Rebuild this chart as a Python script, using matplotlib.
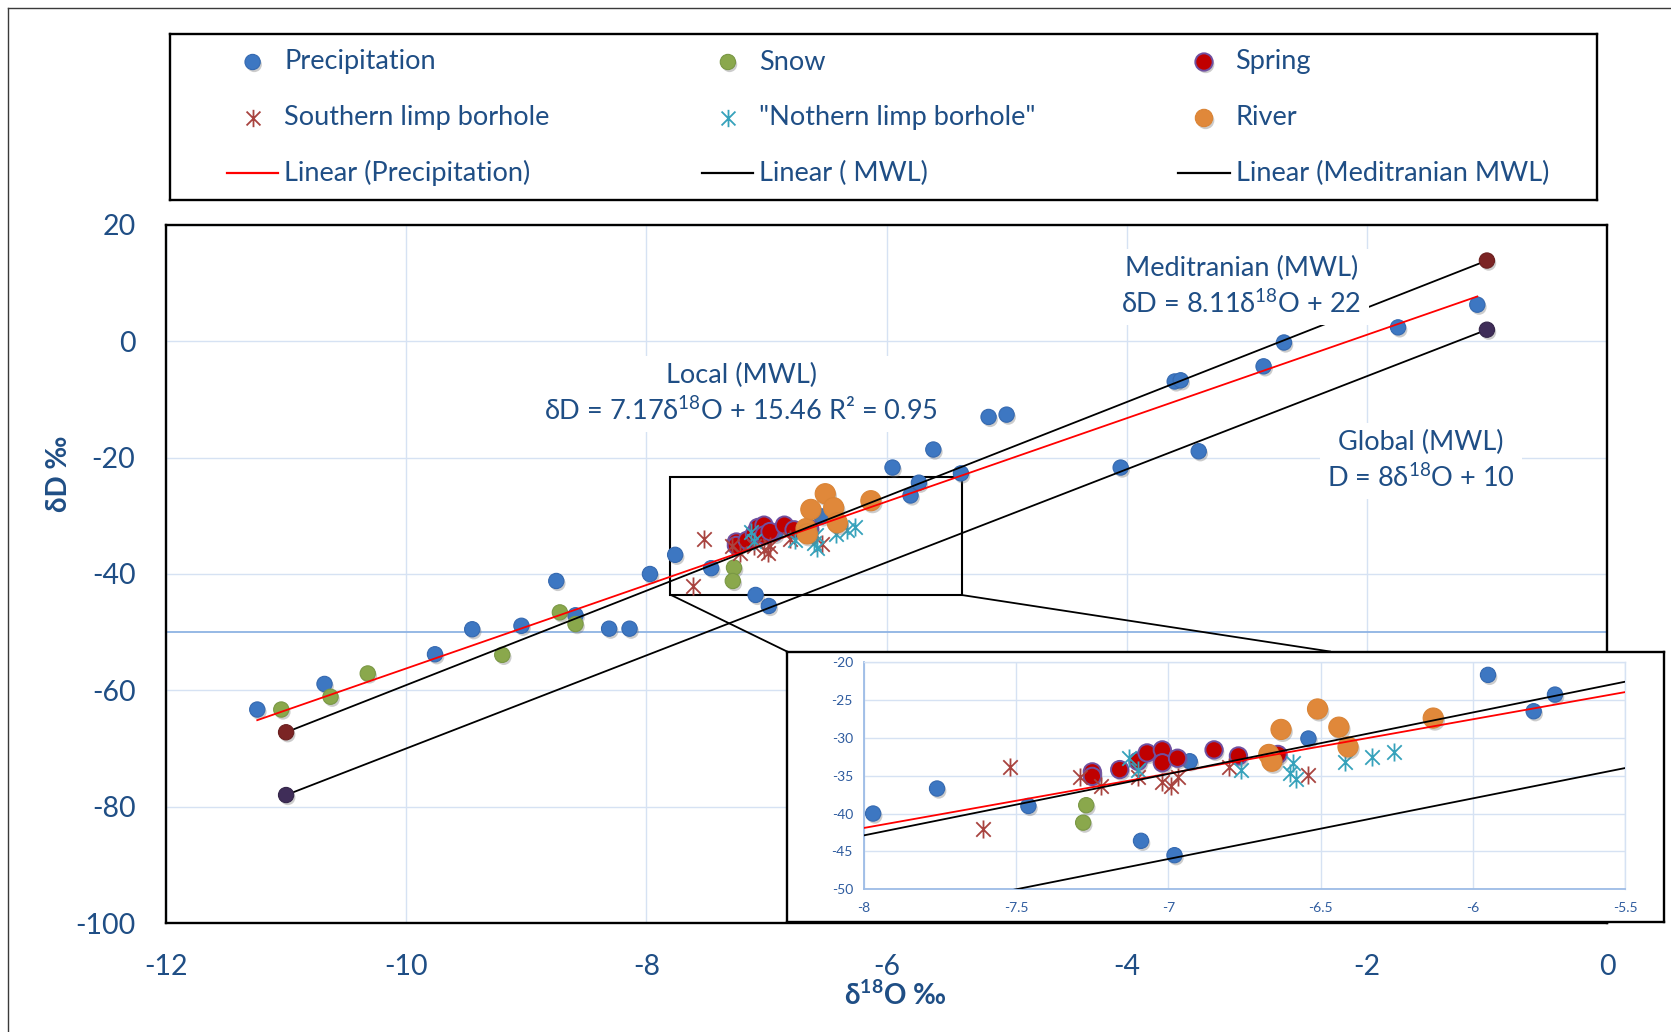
import numpy as np
import matplotlib
matplotlib.use("Agg")
import matplotlib.pyplot as plt
import matplotlib.patheffects as pe
from matplotlib.lines import Line2D
from matplotlib.path import Path
from matplotlib.patches import Rectangle

plt.rcParams["font.family"] = ["Lato", "Noto Sans", "DejaVu Sans"]
plt.rcParams["axes.unicode_minus"] = False
plt.rcParams["mathtext.fontset"] = "custom"
plt.rcParams["mathtext.rm"] = "Lato"
plt.rcParams["mathtext.it"] = "Lato:italic"
plt.rcParams["mathtext.bf"] = "Lato:bold"

# ---------------- isotope data (δ18O ‰, δD ‰) ----------------
precip_o18 = [-11.24, -10.68, -9.76, -9.45, -9.04, -8.75, -8.59, -8.31, -8.14,
              -7.97, -7.76, -7.46, -7.09, -6.98, -6.93, -6.54, -5.95, -5.80,
              -5.73, -5.61, -5.38, -5.15, -5.00, -4.05, -3.60, -3.55, -3.40,
              -2.86, -2.69, -1.74, -1.08]
precip_d = [-63.3, -58.9, -53.8, -49.5, -48.9, -41.2, -47.1, -49.4, -49.4,
            -40.0, -36.7, -39.0, -43.6, -45.5, -33.1, -30.1, -21.7, -26.5,
            -24.3, -18.6, -22.7, -13.0, -12.6, -21.7, -6.9, -6.7, -18.9,
            -4.3, -0.2, 2.4, 6.3]

snow_o18 = [-11.04, -10.63, -10.32, -9.20, -8.72, -8.59, -7.27, -7.28]
snow_d = [-63.3, -61.1, -57.1, -53.9, -46.6, -48.6, -38.9, -41.2]

spring_o18 = [-7.25, -7.25, -7.16, -7.10, -7.07, -7.02, -7.02, -6.97, -6.85, -6.77, -6.64]
spring_d = [-34.5, -35.1, -34.2, -33.1, -32.0, -31.6, -33.3, -32.7, -31.6, -32.4, -32.2]

south_o18 = [-7.52, -7.61, -7.29, -7.22, -7.10, -7.02, -6.99, -6.97, -6.80, -6.54]
south_d = [-33.9, -42.1, -35.2, -36.4, -35.2, -35.9, -36.4, -35.2, -33.9, -34.9]

north_o18 = [-7.13, -7.10, -6.76, -6.59, -6.60, -6.58, -6.42, -6.33, -6.26]
north_d = [-32.7, -34.3, -34.2, -33.3, -34.6, -35.5, -33.2, -32.5, -31.9]

river_o18 = [-6.67, -6.66, -6.63, -6.51, -6.44, -6.41, -6.13]
river_d = [-32.2, -33.1, -28.9, -26.2, -28.6, -31.2, -27.4]

# meteoric water lines: δD = slope * δ18O + intercept
local_slope, local_icpt = 7.17, 15.46
med_slope, med_icpt = 8.11, 22.0
glob_slope, glob_icpt = 8.0, 10.0
mwl_o18 = [-11.0, -1.0]

main_xticks = [-12, -10, -8, -6, -4, -2, 0]
main_yticks = [-100, -80, -60, -40, -20, 0, 20]
inset_xticks = [-8, -7.5, -7, -6.5, -6, -5.5]
inset_yticks = [-50, -45, -40, -35, -30, -25, -20]

# ---------------- layout helpers (pixel -> figure fraction) ----------------
W, H = 1671, 1032
fig = plt.figure(figsize=(W / 100, H / 100), dpi=100)


def fx(px):
    return px / W


def fy(py):
    return 1 - py / H


def box(l, t, r, b):
    return [fx(l), fy(b), fx(r) - fx(l), fy(t) - fy(b)]


TXT = "#1F4E85"
GRID = "#D6E2F3"
AXIS_BLUE = "#8EB3E3"

shadow = [pe.SimplePatchShadow(offset=(1.2, -1.8), shadow_rgbFace="#6f6f6f", alpha=0.35),
          pe.Normal()]

star = Path([(0, -1), (0, 1), (-0.8, -0.8), (0.8, 0.8), (-0.8, 0.8), (0.8, -0.8)],
            [Path.MOVETO, Path.LINETO] * 3)

STY = {
    "precip": dict(marker="o", ms=11, mfc="#3D77C2", mec="#3569B0", mew=0.8),
    "snow": dict(marker="o", ms=11, mfc="#8AA84C", mec="#7A9845", mew=0.8),
    "spring": dict(marker="o", ms=12.5, mfc="#C00000", mec="#7050A0", mew=1.4),
    "south": dict(marker=star, ms=13, mfc="none", mec="#A8433F", mew=1.3),
    "north": dict(marker=star, ms=13, mfc="none", mec="#36A2BB", mew=1.3),
    "river": dict(marker="o", ms=14.5, mfc="#E0883A", mec="#DA8436", mew=0.8),
    "med_pt": dict(marker="o", ms=11, mfc="#7B2424", mec="#6B2020", mew=0.8),
    "glob_pt": dict(marker="o", ms=11, mfc="#3F2D58", mec="#35264A", mew=0.8),
}


def draw_points(a):
    a.plot(precip_o18, precip_d, ls="none", path_effects=shadow, zorder=3, **STY["precip"])
    a.plot(snow_o18, snow_d, ls="none", path_effects=shadow, zorder=3.1, **STY["snow"])
    a.plot(spring_o18, spring_d, ls="none", path_effects=shadow, zorder=3.2, **STY["spring"])
    a.plot(south_o18, south_d, ls="none", zorder=3.3, **STY["south"])
    a.plot(north_o18, north_d, ls="none", zorder=3.4, **STY["north"])
    a.plot(river_o18, river_d, ls="none", path_effects=shadow, zorder=3.5, **STY["river"])


# ---------------- outer chart-area border ----------------
fig.add_artist(Line2D([fx(8), fx(8)], [fy(8), 0], color="#3a3a3a", lw=1.0))
fig.add_artist(Line2D([fx(8), 1], [fy(8), fy(8)], color="#3a3a3a", lw=1.0))

# ---------------- main axes ----------------
ax = fig.add_axes(box(166, 225, 1607, 923))
ax.set_xlim(-12, 0)
ax.set_ylim(-100, 20)
ax.set_xticks(main_xticks)
ax.set_yticks(main_yticks)
ax.grid(True, color=GRID, lw=1.0, zorder=0)
ax.set_axisbelow(True)
ax.axhline(-50, color=AXIS_BLUE, lw=1.3, zorder=1)
ax.tick_params(axis="both", length=0, labelsize=20.5, labelcolor=TXT)
ax.tick_params(axis="x", pad=22)
ax.tick_params(axis="y", pad=22)
for s in ax.spines.values():
    s.set_color("black")
    s.set_linewidth(1.7)

# zoom window
zx0, zx1, zy0, zy1 = -7.8, -5.37, -43.6, -23.4
ax.add_patch(Rectangle((zx0, zy0), zx1 - zx0, zy1 - zy0, fill=False,
                       ec="black", lw=1.5, zorder=1.5))

draw_points(ax)

xp = np.array([min(precip_o18), max(precip_o18)])
ax.plot(xp, local_slope * xp + local_icpt, color="#FF0000", lw=1.3, zorder=4)
xm = np.array(mwl_o18)
ax.plot(xm, med_slope * xm + med_icpt, color="black", lw=1.3, zorder=4)
ax.plot(xm, glob_slope * xm + glob_icpt, color="black", lw=1.3, zorder=4)
ax.plot(xm, med_slope * xm + med_icpt, ls="none", path_effects=shadow, zorder=4.5, **STY["med_pt"])
ax.plot(xm, glob_slope * xm + glob_icpt, ls="none", path_effects=shadow, zorder=4.5, **STY["glob_pt"])

lbl = dict(ha="center", va="center", ma="center", fontsize=19.5, color=TXT,
           linespacing=1.4, transform=fig.transFigure, zorder=5,
           bbox=dict(fc="white", ec="none", pad=5))
ax.text(fx(741), fy(394), "Local (MWL)\nδD = 7.17δ$^{18}$O + 15.46 R² = 0.95", **lbl)
ax.text(fx(1241.5), fy(287), "Meditranian (MWL)\nδD = 8.11δ$^{18}$O + 22", **lbl)
ax.text(fx(1420.6), fy(461), "Global (MWL)\nD = 8δ$^{18}$O + 10", **lbl)

fig.text(fx(895), fy(995), r"δ$^{\mathbf{18}}$O ‰", ha="center", va="center", fontsize=20,
         fontweight="bold", color=TXT)
fig.text(fx(58.6), fy(474), "δD ‰", ha="center", va="center", fontsize=20,
         fontweight="bold", color=TXT, rotation=90)

# connectors from zoom window to inset
fig.add_artist(Line2D([fx(671), fx(787)], [fy(595), fy(651.5)], color="black", lw=1.3))
fig.add_artist(Line2D([fx(961.7), fx(1330)], [fy(595), fy(651.5)], color="black", lw=1.3))

# ---------------- inset ----------------
frame = fig.add_axes(box(787, 651.5, 1664, 922))
frame.set_xticks([])
frame.set_yticks([])
frame.set_facecolor("white")
for s in frame.spines.values():
    s.set_color("black")
    s.set_linewidth(1.7)

axi = fig.add_axes(box(864, 662, 1625, 889.3))
axi.set_xlim(-8, -5.5)
axi.set_ylim(-50, -20)
axi.set_xticks(inset_xticks)
axi.set_yticks(inset_yticks)
axi.set_xticklabels([f"{v:g}" for v in inset_xticks])
axi.set_yticklabels([f"{v:g}" for v in inset_yticks])
axi.grid(True, color=GRID, lw=1.0)
axi.set_axisbelow(True)
axi.tick_params(axis="both", length=0, labelsize=10, labelcolor="#2F5C9F")
axi.tick_params(axis="x", pad=9)
axi.tick_params(axis="y", pad=8)
for side in ("left", "bottom"):
    axi.spines[side].set_color("#9DBCE6")
    axi.spines[side].set_linewidth(1.3)
for side in ("top", "right"):
    axi.spines[side].set_color(GRID)
    axi.spines[side].set_linewidth(1.0)

draw_points(axi)
xi = np.array([-8.0, -5.5])
axi.plot(xi, local_slope * xi + local_icpt, color="#FF0000", lw=1.3, zorder=4)
axi.plot(xi, med_slope * xi + med_icpt, color="black", lw=1.3, zorder=4)
axi.plot(xi, glob_slope * xi + glob_icpt, color="black", lw=1.3, zorder=4)

# ---------------- legend ----------------
lg = fig.add_axes(box(170, 34, 1597, 200))
lg.set_xlim(170, 1597)
lg.set_ylim(200, 34)
lg.set_xticks([])
lg.set_yticks([])
for s in lg.spines.values():
    s.set_color("black")
    s.set_linewidth(1.7)

col_x = [252.6, 727.9, 1204.0]
row_y = [62.0, 118.0, 173.0]
legend_rows = [
    [("Precipitation", "precip"), ("Snow", "snow"), ("Spring", "spring")],
    [("Southern limp borhole", "south"), ('"Nothern limp borhole"', "north"), ("River", "river")],
    [("Linear (Precipitation)", "#FF0000"), ("Linear ( MWL)", "black"),
     ("Linear (Meditranian MWL)", "black")],
]
for r, row in enumerate(legend_rows):
    for c, (label, key) in enumerate(row):
        cx, cy = col_x[c], row_y[r]
        if key in STY:
            st = dict(STY[key])
            st["ms"] = min(st["ms"], 12.5)
            pe_ = shadow if st["marker"] == "o" else None
            lg.plot([cx], [cy], ls="none", path_effects=pe_, **st)
        else:
            lg.plot([cx - 26, cx + 25.5], [cy, cy], color=key, lw=1.6)
        lg.text(cx + 31.5, cy, label, ha="left", va="center", fontsize=19.5, color=TXT)

fig.savefig("out.png", dpi=100, facecolor="white")
